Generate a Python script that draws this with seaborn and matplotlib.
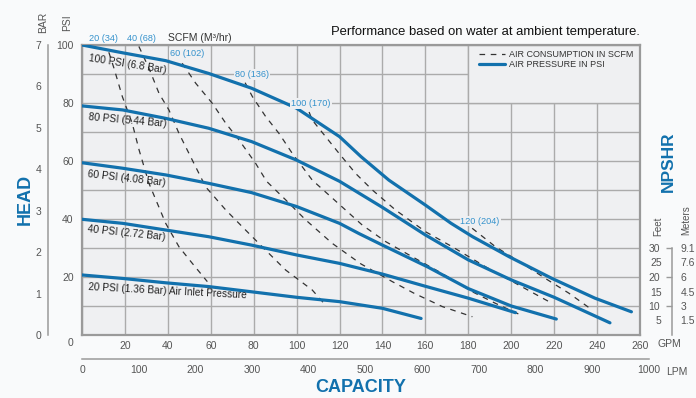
import numpy as np
import pandas as pd
import matplotlib.pyplot as plt
import seaborn as sns
from matplotlib.lines import Line2D
from matplotlib.patches import Rectangle
from matplotlib.ticker import FixedLocator, FixedFormatter

# air pressure curves (GPM vs head in PSI)
gpm_100 = [0, 19, 39, 59, 79, 100, 120, 130, 143, 160, 172, 182, 199, 219, 239, 256]
psi_100 = [100, 97.3, 94.6, 90.2, 85.1, 78.2, 68.4, 61.5, 53.4, 44.8, 38.5, 33.9, 27, 19.5, 12.7, 8]
gpm_80 = [0, 19, 39, 59, 79, 100, 120, 140, 160, 180, 200, 220, 246]
psi_80 = [79, 77.6, 74.7, 71.3, 66.7, 60.3, 53, 44, 34.5, 25.9, 19, 13, 4.2]
gpm_60 = [0, 19, 39, 59, 79, 100, 120, 129, 140, 161, 180, 200, 221]
psi_60 = [59.4, 57.5, 55.2, 52.3, 49.1, 44.3, 38.5, 35, 31, 23.5, 16, 10, 5.5]
gpm_40 = [0, 19, 39, 59, 79, 100, 120, 140, 160, 180, 202]
psi_40 = [39.9, 38.5, 36.2, 33.9, 31, 27.6, 24.7, 21, 16.8, 12.7, 7.7]
gpm_20 = [0, 19, 39, 59, 79, 100, 120, 140, 158]
psi_20 = [20.7, 19.5, 18, 16.7, 14.9, 13, 11.5, 9.2, 5.7]

# air consumption curves (SCFM)
gpm_s20 = [12.5, 14.9, 18.8, 23.4, 26.6, 31.2, 39, 45.2, 51.4, 58.4]
psi_s20 = [97.5, 92, 82.2, 73, 63.8, 52.3, 38.5, 30.4, 24.7, 18.4]
gpm_s40 = [26.5, 31.2, 35.9, 40.5, 45.2, 51.4, 57.6, 67, 76.2, 85.5, 94.9, 107.3, 113.5]
psi_s40 = [99.5, 92, 83.3, 77.6, 69.5, 60.3, 51.1, 43.1, 36.2, 29.3, 22.4, 15.5, 10.3]
gpm_s60 = [46.7, 53, 60.7, 67, 73.2, 80.9, 86, 94.9, 104.2, 116.6, 130, 144.6, 154.7, 167.9, 181.9]
psi_s60 = [93.7, 86.8, 79.9, 73, 67.2, 59.2, 53, 46.6, 39.7, 31.6, 24.5, 18.4, 14.4, 9.8, 6.3]
gpm_s80 = [76, 79.4, 85.6, 91.8, 98, 107.3, 115, 130.6, 141.5, 152.4, 166.4, 181.9, 192.7, 204.4]
psi_s80 = [87, 82.2, 75.3, 69.5, 62.6, 53.4, 48.3, 37.9, 32.2, 27.6, 21.8, 14.9, 10.9, 6.9]
gpm_s100 = [105.8, 107.3, 113.5, 119.8, 127.5, 135.3, 146.1, 160.1, 172.6, 188.1, 202.1, 217.6]
psi_s100 = [76.9, 74.1, 68.4, 62.6, 55.7, 50, 43.1, 35.6, 30.4, 23.5, 17.8, 11.5]
gpm_s120 = [181.8, 192.7, 205.1, 215.9, 226.9, 237.8]
psi_s120 = [36.8, 30.4, 24.7, 19.5, 14.4, 8.6]

curve_labels = ["100 PSI (6.8 Bar)", "80 PSI (5.44 Bar)", "60 PSI (4.08 Bar)",
                "40 PSI (2.72 Bar)", "20 PSI (1.36 Bar) Air Inlet Pressure"]
curve_label_pos = [(3.3, 95.6, -9), (2.8, 75.2, -5), (2.8, 55.6, -6.5), (2.8, 36.4, -6), (2.8, 16.4, -3)]

scfm_labels = ["20 (34)", "40 (68)", "60 (102)", "80 (136)", "100 (170)", "120 (204)"]
scfm_label_pos = [(9.8, 102.4), (27.5, 102.4), (48.9, 97.2), (79.2, 89.7), (106.7, 79.7), (185.5, 39.3)]

gpm_ticks = list(range(0, 261, 20))
lpm_ticks = list(range(0, 1001, 100))
bar_ticks = list(range(0, 8))
feet_ticks = [5, 10, 15, 20, 25, 30]
meter_labels = ["1.5", "3", "4.5", "6", "7.6", "9.1"]

sns.set_style("white")
plt.rcParams['font.family'] = ['Liberation Sans', 'DejaVu Sans']

BLUE = '#1271ad'
LBLUE = '#3592cc'
GRAY = '#555555'
BG = '#eff0f2'
W, H = 696, 398

fig = plt.figure(figsize=(6.96, 3.98), dpi=100)
fig.set_facecolor('#f9fafb')
ax = fig.add_axes([82 / W, 63 / H, 558 / W, 290 / H])
ax.set_facecolor(BG)

psi_curves = [(gpm_100, psi_100), (gpm_80, psi_80), (gpm_60, psi_60), (gpm_40, psi_40), (gpm_20, psi_20)]
for g, p in psi_curves:
    sns.lineplot(x=g, y=p, ax=ax, color=BLUE, lw=2.3, sort=False, zorder=4)

scfm_curves = [(gpm_s20, psi_s20), (gpm_s40, psi_s40), (gpm_s60, psi_s60),
               (gpm_s80, psi_s80), (gpm_s100, psi_s100), (gpm_s120, psi_s120)]
for g, p in scfm_curves:
    sns.lineplot(x=g, y=p, ax=ax, color='#333333', lw=0.9, sort=False,
                 linestyle=(0, (4.5, 4.5)), zorder=3)

ax.set_xlim(0, 260)
ax.set_ylim(0, 100)
ax.set_xticks(gpm_ticks)
ax.set_xticklabels([''] + [str(v) for v in gpm_ticks[1:]])
yt = list(range(0, 101, 10))
ax.set_yticks(yt)
ax.set_yticklabels([str(v) if v % 20 == 0 and v > 0 else '' for v in yt])
ax.tick_params(length=0, labelsize=7.5, labelcolor=GRAY)
ax.tick_params(axis='x', pad=4)
ax.tick_params(axis='y', pad=6)
ax.grid(True, color='#ababab', lw=1)
ax.set_axisbelow(True)
for s in ax.spines.values():
    s.set_color('#9a9a9a')
    s.set_linewidth(1.6)
ax.set_xlabel('')
ax.set_ylabel('')
ax.text(-0.0215, -0.028, '0', transform=ax.transAxes, ha='center', va='center',
        fontsize=7.5, color=GRAY)

# legend box covering the grid in the upper-right corner
ax.add_patch(Rectangle((180 / 260, 0.8), 80 / 260, 0.2, transform=ax.transAxes,
                       facecolor=BG, edgecolor='#ababab', lw=1, zorder=1))
handles = [Line2D([], [], color='#333333', lw=0.9, linestyle=(0, (4.5, 4.5))),
           Line2D([], [], color=BLUE, lw=2.3)]
leg = ax.legend(handles, ["AIR CONSUMPTION IN SCFM", "AIR PRESSURE IN PSI"],
                loc='upper left', bbox_to_anchor=(0.712, 0.982), frameon=False,
                fontsize=6.5, handlelength=2.8, handletextpad=0.45,
                labelspacing=0.12, borderpad=0, borderaxespad=0)
for t in leg.get_texts():
    t.set_color('#333333')

for lab, (x, y, r) in zip(curve_labels, curve_label_pos):
    ax.text(x, y, lab, fontsize=7.3, color='#222222', rotation=r,
            rotation_mode='anchor', ha='left', va='center', zorder=5)

for lab, (x, y) in zip(scfm_labels, scfm_label_pos):
    ax.text(x, y, lab, fontsize=6.6, color=LBLUE, ha='center', va='center',
            clip_on=False, zorder=5,
            bbox=dict(boxstyle='square,pad=0.1', fc=BG if y < 100 else 'none', ec='none'))
ax.text(55, 102.4, "SCFM (M³/hr)", fontsize=7.5, color='#333333', ha='center',
        va='center', clip_on=False)

# BAR axis
ax_bar = fig.add_axes([48 / W, 63 / H, 0.0001, 290 / H])
ax_bar.set_facecolor('none')
ax_bar.set_ylim(0, 7)
ax_bar.set_yticks(bar_ticks)
ax_bar.set_xticks([])
for k in ['right', 'top', 'bottom']:
    ax_bar.spines[k].set_visible(False)
ax_bar.spines['left'].set_color('#9a9a9a')
ax_bar.spines['left'].set_linewidth(1.1)
ax_bar.tick_params(axis='y', direction='out', length=3, width=1, color='#9a9a9a',
                   pad=2, labelsize=7.5, labelcolor=GRAY)

# LPM axis
lpm_w = 558 * 1000 / (260 * 3.785)
ax_lpm = fig.add_axes([82 / W, (H - 359) / H, lpm_w / W, 0.0001])
ax_lpm.set_facecolor('none')
ax_lpm.set_xlim(0, 1000)
ax_lpm.set_xticks(lpm_ticks)
ax_lpm.set_yticks([])
for k in ['left', 'right', 'top']:
    ax_lpm.spines[k].set_visible(False)
ax_lpm.spines['bottom'].set_color('#9a9a9a')
ax_lpm.spines['bottom'].set_linewidth(1.1)
ax_lpm.tick_params(axis='x', direction='in', length=4, width=1, color='#9a9a9a',
                   pad=4, labelsize=7.5, labelcolor=GRAY)

# NPSHR axis
ax_n = fig.add_axes([672 / W, 63 / H, 0.0001, 290 / H])
ax_n.set_facecolor('none')
ax_n.set_ylim(0, 100)
ax_n.set_xticks([])
for k in ['right', 'top', 'bottom']:
    ax_n.spines[k].set_visible(False)
ax_n.spines['left'].set_bounds(0, 30)
ax_n.spines['left'].set_color('#9a9a9a')
ax_n.spines['left'].set_linewidth(1.1)
ax_n.yaxis.set_major_locator(FixedLocator([10, 20, 30]))
ax_n.yaxis.set_major_formatter(FixedFormatter(['10', '20', '30']))
ax_n.yaxis.set_minor_locator(FixedLocator([5, 15, 25]))
ax_n.yaxis.set_minor_formatter(FixedFormatter(['5', '15', '25']))
ax_n.tick_params(axis='y', which='major', direction='out', length=4, width=1,
                 color='#9a9a9a', pad=4.5, labelsize=7.5, labelcolor=GRAY)
ax_n.tick_params(axis='y', which='minor', length=0, pad=7.5, labelsize=7.5, labelcolor=GRAY)

ax_m = ax_n.twinx()
ax_m.set_ylim(0, 100)
ax_m.set_yticks(feet_ticks)
ax_m.set_yticklabels(meter_labels)
for s in ax_m.spines.values():
    s.set_visible(False)
ax_m.tick_params(axis='y', length=0, pad=6, labelsize=7.5, labelcolor=GRAY)

# text
def ftext(x, y, s, **kw):
    fig.text(x / W, 1 - y / H, s, **kw)

ftext(640, 32, "Performance based on water at ambient temperature.", fontsize=9.4,
      color='#111111', ha='right', va='center')
ftext(25, 199, "HEAD", fontsize=13, fontweight='bold', color=BLUE, rotation=90,
      ha='center', va='center')
ftext(361, 388, "CAPACITY", fontsize=13, fontweight='bold', color=BLUE,
      ha='center', va='center')
ftext(668, 162, "NPSHR", fontsize=12.5, fontweight='bold', color=BLUE, rotation=90,
      ha='center', va='center')
ftext(43, 22, "BAR", fontsize=7.5, color=GRAY, rotation=90, ha='center', va='center')
ftext(67, 23, "PSI", fontsize=7.5, color=GRAY, rotation=90, ha='center', va='center')
ftext(658, 344, "GPM", fontsize=7.5, color=GRAY, ha='left', va='center')
ftext(666, 372, "LPM", fontsize=7.5, color=GRAY, ha='left', va='center')
ftext(658, 226, "Feet", fontsize=7, color=GRAY, rotation=90, ha='center', va='center')
ftext(686, 220, "Meters", fontsize=7, color=GRAY, rotation=90, ha='center', va='center')

plt.savefig('out.png', dpi=100, facecolor=fig.get_facecolor())
